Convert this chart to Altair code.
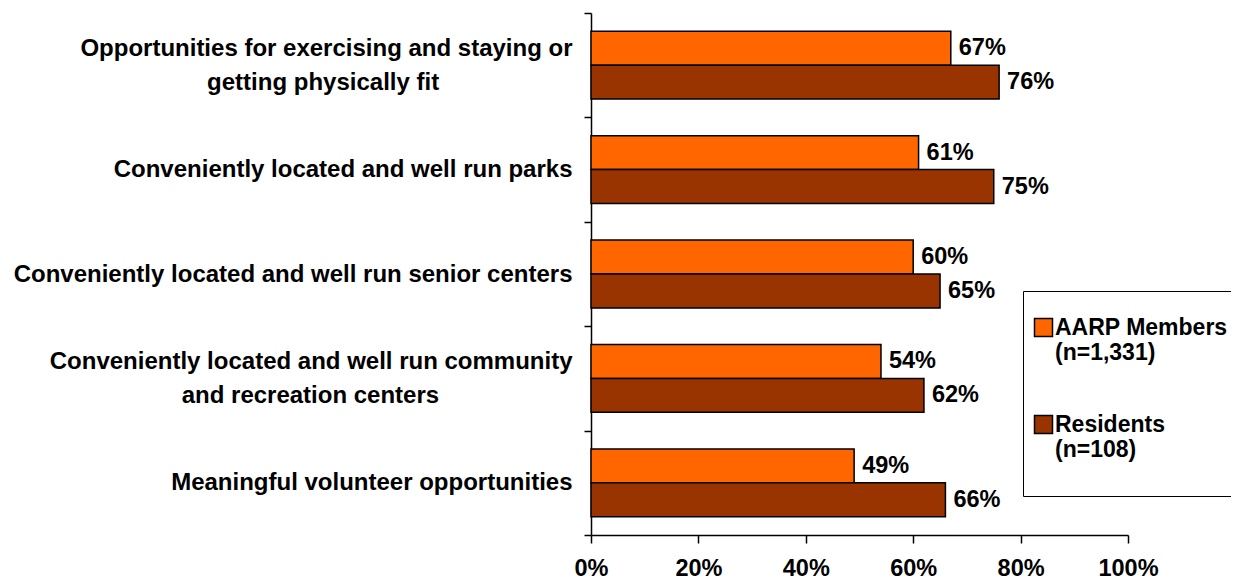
import altair as alt
import pandas as pd

categories = [
    "Opportunities for exercising and staying or\ngetting physically fit",
    "Conveniently located and well run parks",
    "Conveniently located and well run senior centers",
    "Conveniently located and well run community\nand recreation centers",
    "Meaningful volunteer opportunities",
]
series = ["AARP Members\n(n=1,331)", "Residents\n(n=108)"]
aarp = [67, 61, 60, 54, 49]
residents = [76, 75, 65, 62, 66]
x_ticks = [0, 20, 40, 60, 80, 100]
colors = ["#FF6600", "#993300"]

rows = []
for c, a, r in zip(categories, aarp, residents):
    rows.append({"category": c, "series": series[0], "value": a})
    rows.append({"category": c, "series": series[1], "value": r})
df = pd.DataFrame(rows)

FONT = "Liberation Sans"
NBSP = "\u00a0"
ZWSP = "\u200b"

L1 = "split(datum.label, '\\n')[0]"
L2 = "split(datum.label, '\\n')[1]"
# two-line labels: line 1, half-line gap, line 2 (padded so the lines look centred);
# one-line labels: half-line gap then the text, so every label is centred on its band
cat_label_expr = (
    "indexof(datum.label, '\\n') >= 0 ? "
    "[" + L1 + ", '" + ZWSP + "', pad(" + L2 + ", length(" + L2 + ") + round(0.95 * (length(" + L1 + ") - length(" + L2 + "))), '"
    + NBSP + "') + '" + ZWSP + "'] : ['" + ZWSP + "', datum.label]"
)

y_enc = alt.Y(
    "category:N",
    sort=categories,
    scale=alt.Scale(paddingInner=0, paddingOuter=0),
    axis=alt.Axis(
        title=None,
        domainColor="black",
        domainWidth=1.5,
        tickColor="black",
        tickWidth=1.5,
        tickSize=7,
        tickBand="extent",
        labelFont=FONT,
        labelFontSize=24,
        labelFontWeight="bold",
        labelColor="black",
        labelLimit=1000,
        labelLineHeight=17,
        labelOffset=-17,
        labelExpr=cat_label_expr,
        labelAlign="right",
        labelPadding=12,
    ),
)
yoff = alt.YOffset("series:N", sort=series, scale=alt.Scale(paddingOuter=0.54, paddingInner=0))

bars = alt.Chart(df).mark_bar(stroke="black", strokeWidth=1.5, cornerRadius=0).encode(
    x=alt.X(
        "value:Q",
        scale=alt.Scale(domain=[0, 100]),
        axis=alt.Axis(
            title=None,
            values=x_ticks,
            labelExpr="datum.value + '%'",
            labelFlush=False,
            grid=False,
            domainColor="black",
            domainWidth=1.5,
            tickColor="black",
            tickWidth=1.5,
            tickSize=8,
            labelFont=FONT,
            labelFontSize=23.5,
            labelFontWeight="bold",
            labelColor="black",
            labelPadding=13,
        ),
    ),
    y=y_enc,
    yOffset=yoff,
    color=alt.Color(
        "series:N",
        sort=series,
        scale=alt.Scale(domain=series, range=colors),
        legend=alt.Legend(
            title=" ",
            titleFontSize=14,
            titlePadding=2,
            orient="none",
            legendX=432,
            legendY=278,
            direction="vertical",
            fillColor="white",
            strokeColor="black",
            padding=9,
            symbolType="square",
            symbolSize=324,
            symbolStrokeColor="black",
            symbolStrokeWidth=1.5,
            symbolOpacity=1,
            labelFont=FONT,
            labelFontSize=23,
            labelFontWeight="bold",
            labelColor="black",
            labelLimit=400,
            labelOffset=0,
            labelExpr="split(datum.label + '\\n', '\\n')",
            rowPadding=22,
        ),
    ),
)

labels = alt.Chart(df).mark_text(
    align="left", baseline="middle", dx=8, font=FONT, fontSize=23.5, fontWeight="bold", color="black"
).encode(
    x=alt.X("value:Q"),
    y=alt.Y("category:N", sort=categories),
    yOffset=yoff,
    text=alt.Text("label:N"),
).transform_calculate(label="datum.value + '%'")

chart = (
    alt.layer(bars, labels)
    .properties(
        width=537,
        height=522,
        autosize=alt.AutoSizeParams(type="none"),
        padding={"left": 583, "top": 5, "right": 103, "bottom": 45},
    )
    .configure_view(stroke=None)
)

chart.save("out.html", embed_options={"renderer": "svg", "actions": False})
